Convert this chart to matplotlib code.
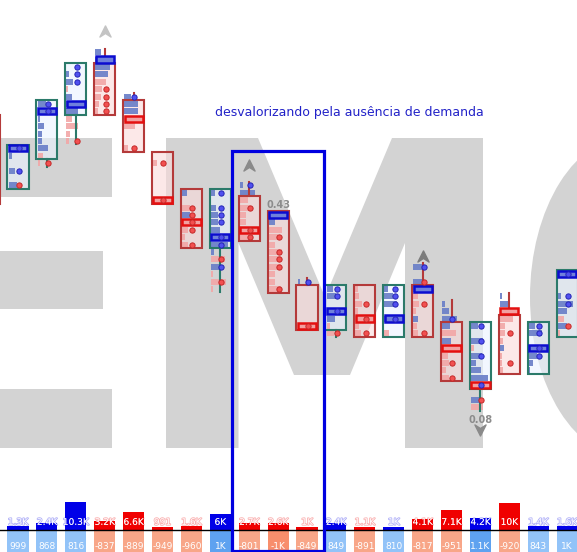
import numpy as np
import matplotlib.pyplot as plt
from matplotlib.patches import Rectangle, Polygon, Ellipse
from matplotlib.path import Path
from matplotlib.colors import to_rgba
import matplotlib.patheffects as pe

# ---- footprint candles (price in ticks, candle 0 is cut off at the left) ----
bullish  = [0, 1, 1, 1, 0, 0, 0, 0, 1, 0, 0, 0, 1, 0, 1, 0, 0, 1, 0, 1, 1]
high     = [43, 39, 45, 50, 52, 46, 38, 33, 33, 34, 30, 21, 20, 20, 20, 23, 18, 15, 19, 15, 22]
body_top = [43, 39, 45, 50, 50, 45, 38, 33, 33, 32, 30, 20, 20, 20, 20, 20, 15, 15, 16, 15, 22]
body_bot = [32, 34, 38, 44, 44, 39, 32, 26, 26, 27, 20, 15, 15, 14, 14, 14, 8, 7, 9, 9, 14]
low      = [32, 34, 37, 40, 44, 39, 32, 26, 20, 27, 20, 15, 14, 14, 14, 14, 8, 4, 9, 9, 14]
poc      = [None, 39, 44, 45, 51, 43, 32, 29, 27, 28, 30, 15, 17, 16, 16, 20, 12, 7, 17, 12, 22]
poc_buy  = [0, 1, 1, 1, 1, 0, 0, 0, 1, 0, 1, 0, 1, 0, 1, 1, 0, 0, 0, 1, 1]

# volume per price level, high -> low (+ buyers, - sellers, fraction of body width)
profile = [
    [0] * 12,
    [0.6, 0.15, 0, 0.33, 0, 0.4],
    [0.45, 0.75, 0.1, 0.35, 0.2, 0.2, 0.55, -0.3, -0.1],
    [0, 0.12, 0.32, -0.1, 0.28, 0.7, 0.58, -0.3, -0.6, -0.2, -0.12],
    [0.3, 0.85, 0.75, 0.65, -0.55, -0.35, -0.3, -0.2, -0.12],
    [0.35, 0.7, 0.7, -0.8, -0.55, 0, 0, -0.2],
    [0, -0.2, 0, 0, 0, 0, -0.6],
    [0.25, 0, -0.4, 0.4, -0.75, -0.3, -0.15, -0.3],
    [0.2, 0, 0.25, 0.35, 0.35, 0.45, 0.8, 0.85, 0.15, -0.7, 0.5, -0.1, -0.75, -0.1],
    [0.15, 0.75, -0.4, -0.5, -0.3, -0.3, -0.7, -0.4],
    [0.8, 0.3, -0.65, -0.45, -0.3, -0.65, -0.6, -0.6, -0.3, -0.3, -0.6],
    [0.1, 0, 0, 0, 0, 0, -0.7],
    [0.3, 0.45, 0, 0.8, 0.4, -0.18, -0.35],
    [-0.15, -0.2, -0.35, -0.15, -0.8, -0.2, -0.3],
    [0.2, 0.45, 0.65, 0, 0.8, 0, -0.25],
    [0.55, 0, 0.55, 0.8, -0.25, -0.3, -0.15, 0.25, -0.2, -0.25],
    [0.15, 0.35, 0.75, 0.4, -0.7, 0.45, -0.75, -0.3, -0.35, -0.2, -0.35],
    [0.35, 0, 0.6, -0.15, 0.55, 0.25, 0.5, 0.85, -0.8, 0, 0.4, -0.6],
    [0.08, 0.45, -0.85, -0.65, -0.25, -0.25, -0.15, 0.2, -0.12, -0.12, -0.15],
    [0.3, 0.65, 0, 0.85, 0.4, 0.2, 0.05],
    [0.85, 0, 0, 0.15, 0.75, 0.45, -0.3, 0.45, -0.1],
]

# imbalance dots
buy_dots = [[], [39, 36], [45, 44], [50, 49, 48], [], [46], [], [],
            [33, 31, 30, 29, 27, 26, 23], [34], [], [21], [20, 19, 17], [],
            [20, 19, 18, 16], [23], [16], [15, 13, 11, 7], [], [15, 14, 12, 11],
            [22, 19, 18]]
sell_dots = [[], [34], [37], [40], [47, 46, 45, 44], [39], [37, 32],
             [31, 30, 29, 28, 26], [24, 21], [31, 28, 27], [27, 25, 24, 23, 20],
             [15], [14], [18, 16, 14], [], [21, 18, 14], [10, 8], [5], [14, 10],
             [], [15]]

# arrows and small labels
arrow_candle = [4, 9, 15, 17]
arrow_level = [54.8, 36.8, 24.5, 0.9]
arrow_up = [1, 1, 1, 0]
arrow_color = ['#c4c4c4', '#8a8a8a', '#7c7c7c', '#8a8a8a']
note_candle = [10, 17]
note_level = [31.4, 2.3]
note_text = ['0.43', '0.08']

# bottom panel (candles 1..20)
volume = [1300, 2400, 10300, 3200, 6600, 991, 1600, 6000, 2700, 2600,
          1000, 2400, 1100, 1000, 4100, 7100, 4200, 10000, 1400, 1600]
delta = [999, 868, 816, -837, -889, -949, -960, 1040, -801, -1040,
         -849, 849, -891, 810, -817, -951, 1100, -920, 843, 1000]

highlight_from, highlight_to, highlight_top = 9, 11, 38.6
comment = 'desvalorizando pela ausência de demanda'

# ---- style ----
BULL_EDGE, BEAR_EDGE = '#2b7a6a', '#b43a3a'
BULL_FILL, BEAR_FILL = to_rgba('#eaf3ff', 0.6), to_rgba('#fbdada', 0.6)
BUY_BAR, SELL_BAR = '#6a7fc8', '#f2a8a8'
HW = 0.365
GRAY = '#d3d3d3'


def fmt(v):
    if abs(v) < 1000:
        return str(v)
    return ('%.1f' % (v / 1000)).rstrip('0').rstrip('.') + 'K'


fig = plt.figure(figsize=(5.77, 5.52), dpi=100)
fig.patch.set_facecolor('white')

# watermark "EMC" behind everything (pixel space)
bg = fig.add_axes([0, 0, 1, 1], zorder=0)
bg.set_xlim(0, 577)
bg.set_ylim(552, 0)
bg.axis('off')
for x0, x1, y0, y1 in [(-60, 112, 138, 197), (-60, 103, 251, 309), (-60, 112, 389, 448)]:
    bg.add_patch(Rectangle((x0, y0), x1 - x0, y1 - y0, color=GRAY, lw=0))
bg.add_patch(Polygon([(166, 138), (258, 138), (325, 297), (392, 138), (483, 138),
                      (483, 448), (405, 448), (405, 243), (350, 375), (294, 375),
                      (238.5, 243), (238.5, 448), (166, 448)], color=GRAY, lw=0))
bg.add_patch(Ellipse((632, 297), 204, 324, color=GRAY, lw=0))

ax = fig.add_axes([0, 0, 1, 1], zorder=2)
ax.set_xlim(0.377, 20.34)
ax.set_ylim(-15.54, 59.05)
ax.axis('off')

up_marker = Path([(0, 1), (1, -1), (0, -0.35), (-1, -1), (0, 1)],
                 [Path.MOVETO, Path.LINETO, Path.LINETO, Path.LINETO, Path.CLOSEPOLY])
down_marker = Path([(0, -1), (1, 1), (0, 0.35), (-1, 1), (0, -1)],
                   [Path.MOVETO, Path.LINETO, Path.LINETO, Path.LINETO, Path.CLOSEPOLY])

for i in range(len(high)):
    edge = BULL_EDGE if bullish[i] else BEAR_EDGE
    fill = BULL_FILL if bullish[i] else BEAR_FILL
    body_h = body_top[i] - body_bot[i] + 1
    ax.add_patch(Rectangle((i - HW, body_bot[i] - 0.5), 2 * HW, body_h,
                           facecolor=fill, edgecolor='none', zorder=2))

    levels = np.arange(high[i], low[i] - 1, -1)
    w = np.array(profile[i], dtype=float)
    keep = w != 0
    ax.barh(levels[keep], np.abs(w[keep]) * (2 * HW - 0.04), left=i - HW + 0.04,
            height=0.8, color=[BUY_BAR if v > 0 else SELL_BAR for v in w[keep]],
            alpha=0.92, zorder=3)

    ax.add_patch(Rectangle((i - HW, body_bot[i] - 0.5), 2 * HW, body_h,
                           facecolor='none', edgecolor=edge, lw=1.5, zorder=4))
    if high[i] > body_top[i]:
        ax.plot([i, i], [body_top[i] + 0.5, high[i] + 0.45], color=edge, lw=1.5, zorder=4.5)
    if low[i] < body_bot[i]:
        ax.plot([i, i], [body_bot[i] - 0.5, low[i] - 0.45], color=edge, lw=1.5, zorder=4.5)

    if poc[i] is not None:
        pe_c, pf_c = ('#0c0cd0', '#6f80dc') if poc_buy[i] else ('#e41010', '#f2a0a0')
        ax.add_patch(Rectangle((i - HW + 0.05, poc[i] - 0.42), 2 * HW - 0.1, 0.84,
                               facecolor=pf_c, edgecolor=pe_c, lw=1.8, zorder=5))

    ax.plot([i + 0.03] * len(buy_dots[i]), buy_dots[i], 'o', ms=3.8, mfc='#5050f0',
            mec='#2424b4', mew=0.7, zorder=6)
    ax.plot([i + 0.03] * len(sell_dots[i]), sell_dots[i], 'o', ms=3.8, mfc='#f25050',
            mec='#c42828', mew=0.7, zorder=6)

for c, lv, up, col in zip(arrow_candle, arrow_level, arrow_up, arrow_color):
    ax.plot(c, lv, marker=up_marker if up else down_marker, ms=8, color=col,
            mec=col, zorder=6)
for c, lv, t in zip(note_candle, note_level, note_text):
    ax.text(c, lv, t, ha='center', va='center', fontsize=7, fontweight='bold',
            color='#8c8c8c', zorder=6)

ax.text(12.47, 43.9, comment, ha='center', va='center', fontsize=9, color='#2222c8')

# highlighted region (goes down over the volume panel)
ax.add_patch(Rectangle((highlight_from - 0.6, -15.4),
                       highlight_to - highlight_from + 1.2, highlight_top + 15.4,
                       facecolor='none', edgecolor='#0000e0', lw=2.3, zorder=8))

# ---- volume / delta panel ----
axv = fig.add_axes([0, 0, 1, 57 / 552], zorder=1)
axv.set_xlim(0.377, 20.34)
axv.set_ylim(-8, 12.73)
axv.axis('off')
xs = np.arange(1, len(volume) + 1)
vol_k = np.array(volume) / 1000
vcol = ['#0000e8' if bullish[i] else '#f00000' for i in xs]
axv.bar(xs, vol_k, width=2 * HW, color=vcol, zorder=2)
dcol = []
for d in delta:
    if d > 0:
        dcol.append('#5ea2f0' if d >= 1020 else '#92c3f8')
    else:
        dcol.append('#f88e6c' if d <= -1020 else '#f8a688')
axv.bar(xs, [-8] * len(delta), bottom=-0.35, width=2 * HW, color=dcol, zorder=2)
axv.axhline(0, color='black', lw=1, zorder=3)
for xx, v, d, c in zip(xs, volume, delta, vcol):
    axv.text(xx, 2.8, fmt(v), ha='center', va='center', fontsize=6.5, color='white',
             zorder=4, path_effects=[pe.withStroke(linewidth=1.2, foreground=to_rgba(c, 0.3))])
    axv.text(xx, -6.0, fmt(d), ha='center', va='center', fontsize=6.5,
             color='white', zorder=4)

fig.savefig('out.png', dpi=100)
